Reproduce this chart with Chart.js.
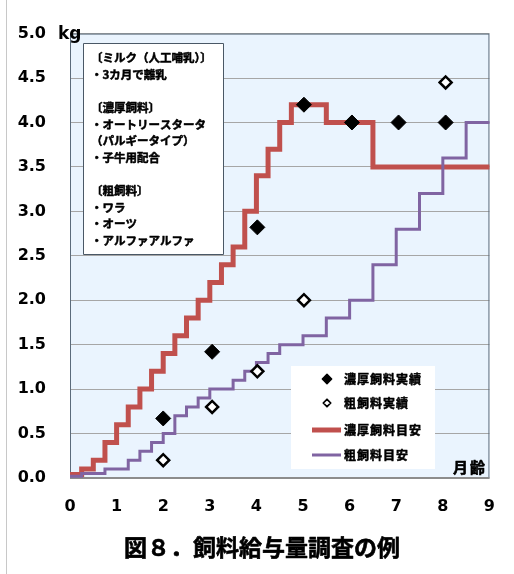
<!DOCTYPE html>
<html>
<head>
<meta charset="utf-8">
<script src="https://cdn.jsdelivr.net/npm/chart.js@4/dist/chart.umd.min.js"></script>
<style>
  html, body { margin: 0; padding: 0; background: #fff; }
  canvas { display: block; }
</style>
</head>
<body>
<canvas id="feed" width="514" height="574"></canvas>
<script>
// 濃厚飼料目安: month at which each daily amount starts, and the amount (kg)
const concentrateGuideMonths = [0, 0.25, 0.5, 0.75, 1, 1.25, 1.5, 1.75, 2, 2.25, 2.5, 2.75, 3, 3.25, 3.5, 3.75, 4, 4.25, 4.5, 4.75, 5.5, 6.5, 9];
const concentrateGuideKg     = [0.04, 0.1, 0.2, 0.4, 0.6, 0.8, 1.0, 1.2, 1.4, 1.6, 1.8, 2.0, 2.2, 2.4, 2.6, 3.0, 3.4, 3.7, 4.0, 4.2, 4.0, 3.5, 3.5];

// 粗飼料目安
const roughageGuideMonths = [0, 0.25, 0.75, 1.25, 1.5, 1.75, 2, 2.25, 2.5, 2.75, 3, 3.5, 3.75, 4, 4.25, 4.5, 5, 5.5, 6, 6.5, 7, 7.5, 8, 8.5, 9];
const roughageGuideKg     = [0.02, 0.05, 0.1, 0.2, 0.3, 0.4, 0.5, 0.7, 0.8, 0.9, 1.0, 1.1, 1.2, 1.3, 1.4, 1.5, 1.6, 1.8, 2.0, 2.4, 2.8, 3.2, 3.6, 4.0, 4.0];

// 実績 (survey results)
const concentrateActualMonths = [2.0, 3.05, 4.02, 5.02, 6.05, 7.05, 8.06];
const concentrateActualKg     = [0.67, 1.42, 2.82, 4.2, 4.0, 4.0, 4.0];
const roughageActualMonths = [2.0, 3.05, 4.02, 5.02, 8.06];
const roughageActualKg     = [0.2, 0.8, 1.2, 2.0, 4.45];

// axes
const monthTicks = [0, 1, 2, 3, 4, 5, 6, 7, 8, 9];
const kgTicks = [0, 0.5, 1, 1.5, 2, 2.5, 3, 3.5, 4, 4.5, 5];
const kgTickLabels = ['0.0', '0.5', '1.0', '1.5', '2.0', '2.5', '3.0', '3.5', '4.0', '4.5', '5.0'];

const noteLines = [
  '〔ミルク（人工哺乳）〕',
  '・3カ月で離乳',
  '',
  '〔濃厚飼料〕',
  '・オートリースタータ',
  '（パルギータイプ）',
  '・子牛用配合',
  '',
  '〔粗飼料〕',
  '・ワラ',
  '・オーツ',
  '・アルファアルファ'
];
const titleText = '図８．飼料給与量調査の例';

const pts = (xs, ys) => xs.map((x, i) => ({ x: x, y: ys[i] }));

const CJK = '"Noto Sans CJK JP", "Noto Sans", sans-serif';
const NUM = '"DejaVu Sans", sans-serif';
const RED = '#C0504D';
const PURPLE = '#8064A2';

// filled text with a thin outline, for a heavier gothic look
function heavyText(ctx, t, x, y, w) {
  ctx.lineWidth = w;
  ctx.strokeStyle = ctx.fillStyle;
  ctx.lineJoin = 'round';
  ctx.strokeText(t, x, y);
  ctx.fillText(t, x, y);
}

const decor = {
  id: 'decor',
  beforeDraw(chart) {
    const { ctx, chartArea: a } = chart;
    ctx.save();
    ctx.fillStyle = '#ffffff';
    ctx.fillRect(0, 0, chart.width, chart.height);
    ctx.fillStyle = '#EAF4FE';
    ctx.fillRect(a.left, a.top, a.right - a.left, a.bottom - a.top);
    ctx.restore();
  },
  beforeDatasetsDraw(chart) {
    const { ctx, chartArea: a } = chart;
    ctx.save();
    ctx.strokeStyle = '#5B6B7B';
    ctx.lineWidth = 1;
    ctx.strokeRect(a.left + 0.5, a.top + 0.5, a.right - a.left - 1, a.bottom - a.top - 1);
    ctx.strokeStyle = '#8C8C8C';
    ctx.lineWidth = 2;
    ctx.beginPath();
    ctx.moveTo(a.left, a.bottom);
    ctx.lineTo(a.right, a.bottom);
    ctx.stroke();
    ctx.restore();
  },
  afterDraw(chart) {
    const { ctx } = chart;
    const ds = chart.data.datasets;
    ctx.save();

    // outer frame line on the left
    ctx.strokeStyle = '#C8C8C8';
    ctx.lineWidth = 1;
    ctx.beginPath();
    ctx.moveTo(6.5, 0);
    ctx.lineTo(6.5, chart.height);
    ctx.stroke();

    // unit labels
    ctx.fillStyle = '#000';
    ctx.textBaseline = 'middle';
    ctx.textAlign = 'left';
    ctx.font = 'bold 17px ' + NUM;
    ctx.fillText('kg', 58, 35);
    ctx.font = 'bold 15px ' + CJK;
    ctx.letterSpacing = '2px';
    heavyText(ctx, '月齢', 453, 467, 0.6);
    ctx.letterSpacing = '0px';

    // note box
    const bx = 83.5, by = 43.5, bw = 140, bh = 211;
    ctx.fillStyle = '#ffffff';
    ctx.fillRect(bx, by, bw, bh);
    ctx.strokeStyle = '#4A5866';
    ctx.lineWidth = 1;
    ctx.strokeRect(bx, by, bw, bh);
    ctx.fillStyle = '#000';
    ctx.font = 'bold 11.5px ' + CJK;
    noteLines.forEach((t, i) => {
      if (t) heavyText(ctx, t, 91, 58 + i * 16.6, 0.5);
    });

    // legend
    const lx = 291, ly = 366, lw = 144, lh = 103;
    ctx.fillStyle = '#ffffff';
    ctx.fillRect(lx, ly, lw, lh);
    const rows = [
      { ds: ds[0], y: 379 },
      { ds: ds[1], y: 403 },
      { ds: ds[3], y: 430 },
      { ds: ds[2], y: 455 }
    ];
    rows.forEach(r => {
      const d = r.ds;
      if (d.showLine) {
        ctx.strokeStyle = d.borderColor;
        ctx.lineWidth = d.borderWidth;
        ctx.beginPath();
        ctx.moveTo(312, r.y);
        ctx.lineTo(341, r.y);
        ctx.stroke();
      } else {
        const rad = d.pointRadius * 0.62;
        ctx.beginPath();
        ctx.moveTo(327 - rad, r.y);
        ctx.lineTo(327, r.y - rad);
        ctx.lineTo(327 + rad, r.y);
        ctx.lineTo(327, r.y + rad);
        ctx.closePath();
        ctx.fillStyle = d.backgroundColor;
        ctx.fill();
        ctx.strokeStyle = d.borderColor;
        ctx.lineWidth = Math.max(1.5, d.borderWidth * 0.7);
        ctx.stroke();
      }
      ctx.fillStyle = '#000';
      ctx.font = 'bold 12px ' + CJK;
      ctx.letterSpacing = '1px';
      ctx.textAlign = 'left';
      heavyText(ctx, d.label, 344, r.y, 0.5);
      ctx.letterSpacing = '0px';
    });

    // title
    ctx.fillStyle = '#000';
    ctx.textAlign = 'center';
    ctx.font = 'bold 23px ' + CJK;
    heavyText(ctx, titleText, 262, 547, 0.6);

    ctx.restore();
  }
};

new Chart(document.getElementById('feed'), {
  type: 'scatter',
  data: {
    datasets: [
      {
        label: '濃厚飼料実績',
        data: pts(concentrateActualMonths, concentrateActualKg),
        showLine: false,
        pointStyle: 'rectRot',
        pointRadius: 7.5,
        backgroundColor: '#000000',
        borderColor: '#000000',
        borderWidth: 1
      },
      {
        label: '粗飼料実績',
        data: pts(roughageActualMonths, roughageActualKg),
        showLine: false,
        pointStyle: 'rectRot',
        pointRadius: 6,
        backgroundColor: '#ffffff',
        borderColor: '#000000',
        borderWidth: 2.5
      },
      {
        label: '粗飼料目安',
        data: pts(roughageGuideMonths, roughageGuideKg),
        showLine: true,
        stepped: 'before',
        pointRadius: 0,
        borderColor: PURPLE,
        backgroundColor: PURPLE,
        borderWidth: 3,
        clip: 6
      },
      {
        label: '濃厚飼料目安',
        data: pts(concentrateGuideMonths, concentrateGuideKg),
        showLine: true,
        stepped: 'before',
        pointRadius: 0,
        borderColor: RED,
        backgroundColor: RED,
        borderWidth: 5,
        clip: 6
      }
    ]
  },
  options: {
    responsive: false,
    animation: false,
    devicePixelRatio: 1,
    layout: { padding: { top: 33, right: 21, bottom: 56, left: 0 } },
    plugins: {
      legend: { display: false },
      tooltip: { enabled: false },
      title: { display: false }
    },
    scales: {
      x: {
        type: 'linear',
        min: 0,
        max: 9,
        afterBuildTicks: s => { s.ticks = monthTicks.map(v => ({ value: v })); },
        afterFit: s => { s.height = 40; },
        ticks: {
          color: '#000',
          font: { family: NUM, size: 16, weight: 'bold' },
          padding: 19,
          maxRotation: 0,
          autoSkip: false
        },
        grid: { display: false, drawTicks: false },
        border: { display: false }
      },
      y: {
        type: 'linear',
        min: 0,
        max: 5,
        afterBuildTicks: s => { s.ticks = kgTicks.map(v => ({ value: v })); },
        afterFit: s => { s.width = 70; },
        ticks: {
          color: '#000',
          font: { family: NUM, size: 16, weight: 'bold' },
          padding: 24,
          autoSkip: false,
          callback: (v) => kgTickLabels[kgTicks.indexOf(v)]
        },
        grid: { color: '#A6A6A6', lineWidth: 1, drawTicks: false },
        border: { display: false }
      }
    }
  },
  plugins: [decor]
});
</script>
</body>
</html>
